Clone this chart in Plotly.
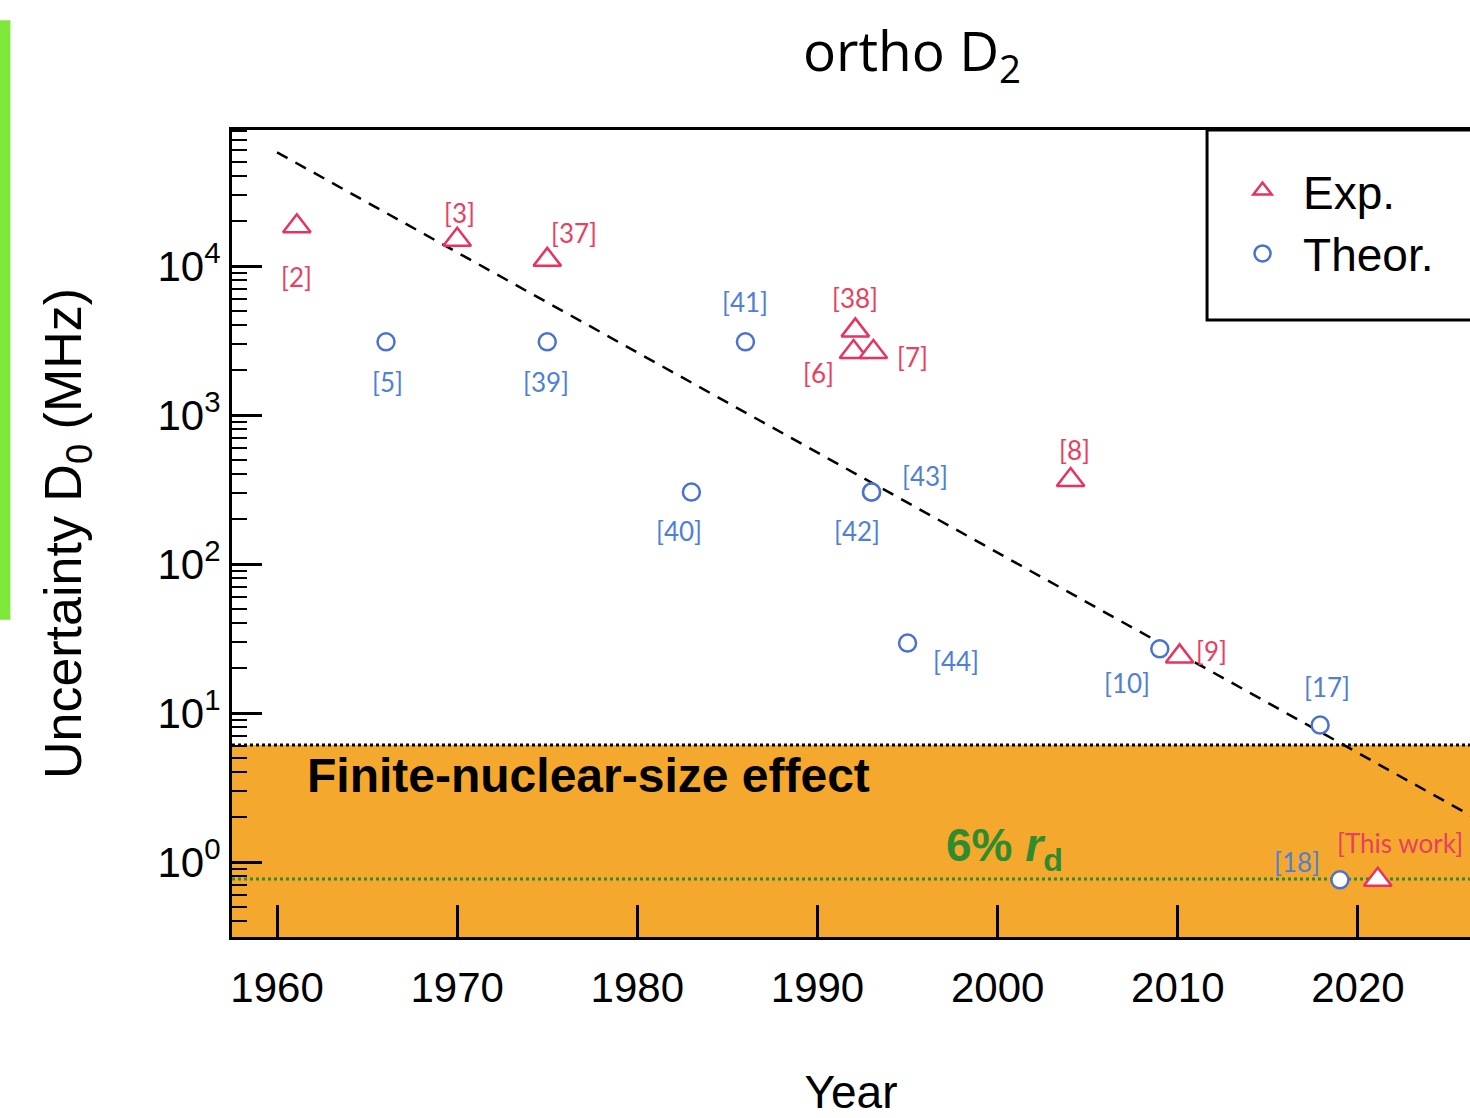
import math
import plotly.graph_objects as go

# ---------------- data ----------------
exp_years = [1961.1, 1970.0, 1975.0, 1992.1, 1992.0, 1993.1, 2004.05, 2010.1, 2021.1]
exp_values = [1.85e4, 1.5e4, 1.1e4, 3.7e3, 2.65e3, 2.65e3, 366, 24, 0.76]
exp_labels = ["[2]", "[3]", "[37]", "[38]", "[6]", "[7]", "[8]", "[9]", "[This work]"]

theo_years = [1966.05, 1975.0, 1986.0, 1983.0, 1993.0, 1993.0, 1995.0, 2009.0, 2017.9, 2019.0]
theo_values = [3.1e3, 3.1e3, 3.1e3, 304, 304, 304, 29.5, 27, 8.3, 0.76]
theo_labels = ["[5]", "[39]", "[41]", "[40]", "[42]", "[43]", "[44]", "[10]", "[17]", "[18]"]

trend_years = [1960, 2030]
trend_values = [5.8e4, 1.15]

fns_limit = 6.1        # finite-nuclear-size effect level (MHz)
rd_level = 0.77        # 6% r_d level (MHz)

year_ticks = [1960, 1970, 1980, 1990, 2000, 2010, 2020]
decade_ticks = [1, 10, 100, 1000, 10000]
decade_text = ["10<sup>0</sup>", "10<sup>1</sup>", "10<sup>2</sup>", "10<sup>3</sup>", "10<sup>4</sup>"]

# ---------------- styles / label placement (pixels) ----------------
RED = "#E8335F"
BLUE = "#4A72D0"
RED_TXT = "#E8405F"
BLUE_TXT = "#4F7FD6"
ORANGE = "#F5A82E"
GREEN = "#2E8B2E"

exp_offsets = [(0, 51), (2, -27), (27, -27), (0, -32), (-35, 21), (39, 5), (4, -30), (32, -5), (22, -37)]
theo_offsets = [(1, 40), (-1, 40), (0, -40), (-12, 39), (-15, 39), (53, -16), (48, 18), (-33, 34), (7, -38), (-43, -18)]

fig = go.Figure()

fig.add_trace(go.Scatter(
    x=trend_years, y=trend_values, mode="lines",
    line=dict(color="black", width=2.5, dash="12px,9px"),
    showlegend=False, hoverinfo="skip"))

fig.add_trace(go.Scatter(
    x=exp_years, y=exp_values, mode="markers", name="Exp.",
    marker=dict(symbol="triangle-up", size=24, color="white",
                line=dict(color=RED, width=2.5))))

fig.add_trace(go.Scatter(
    x=theo_years, y=theo_values, mode="markers", name="Theor.",
    marker=dict(symbol="circle", size=17, color="white",
                line=dict(color=BLUE, width=2.5))))

annotations = []
for xv, yv, lab, (dx, dy) in zip(exp_years, exp_values, exp_labels, exp_offsets):
    annotations.append(dict(x=xv, y=math.log10(yv), xref="x", yref="y", text=lab,
                            showarrow=False, xshift=dx, yshift=-dy,
                            font=dict(family="Lato", size=26, color=RED_TXT)))
for xv, yv, lab, (dx, dy) in zip(theo_years, theo_values, theo_labels, theo_offsets):
    annotations.append(dict(x=xv, y=math.log10(yv), xref="x", yref="y", text=lab,
                            showarrow=False, xshift=dx, yshift=-dy,
                            font=dict(family="Lato", size=26, color=BLUE_TXT)))

annotations.append(dict(x=1961.55, y=0.584, xref="x", yref="y", xanchor="left",
                        text="<b>Finite-nuclear-size effect</b>", showarrow=False,
                        font=dict(family="Liberation Sans", size=48, color="black")))
annotations.append(dict(x=2000.4, y=0.09, xref="x", yref="y",
                        text="<b>6% <i>r</i><sub>d</sub></b>", showarrow=False,
                        font=dict(family="Liberation Sans", size=46, color=GREEN)))

shapes = [
    dict(type="rect", xref="paper", yref="y", x0=0, x1=1, y0=0.1, y1=fns_limit,
         fillcolor=ORANGE, line=dict(width=0), layer="below"),
    dict(type="line", xref="paper", yref="y", x0=0, x1=1, y0=fns_limit, y1=fns_limit,
         line=dict(color="black", width=3, dash="dot"), layer="below"),
    dict(type="line", xref="paper", yref="y", x0=0, x1=1, y0=rd_level, y1=rd_level,
         line=dict(color=GREEN, width=3, dash="dot"), layer="below"),
    # legend frame
    dict(type="rect", xref="paper", yref="paper", x0=0.7876, x1=1.05, y0=0.7646, y1=1.0,
         fillcolor="white", line=dict(color="black", width=3), layer="above"),
    # green bar at the far left of the page
    dict(type="rect", xref="paper", yref="paper", x0=-0.1874, x1=-0.179, y0=0.393, y1=1.136,
         fillcolor="#7DE83A", line=dict(width=0)),
]

minor_vals = [k * 10 ** n for n in range(-1, 5) for k in range(2, 10)]

fig.update_layout(
    width=1470, height=1118,
    margin=dict(l=232, r=0, t=130, b=181),
    paper_bgcolor="white", plot_bgcolor="white",
    title=dict(text="ortho D<sub>2</sub>", x=912 / 1470, xref="container", xanchor="center",
               y=1 - 52 / 1118, yref="container", yanchor="middle",
               font=dict(family="Open Sans", size=55, color="black")),
    font=dict(family="Liberation Sans", color="black"),
    showlegend=True,
    legend=dict(x=0.7997, y=0.97, xanchor="left", yanchor="top",
                bgcolor="rgba(0,0,0,0)", borderwidth=0,
                font=dict(family="Liberation Sans", size=46, color="black"),
                itemsizing="trace", itemwidth=71, tracegroupgap=0),
    annotations=annotations,
    shapes=shapes,
)

fig.update_xaxes(
    range=[1957.5, 2026.22], tickvals=year_ticks,
    ticks="inside", ticklen=32, tickwidth=3, tickcolor="black",
    showline=True, linecolor="black", linewidth=3, mirror=True,
    showgrid=False, zeroline=False, ticklabelstandoff=12,
    tickfont=dict(family="Liberation Sans", size=42, color="black"),
    title=dict(text="Year", standoff=74, font=dict(family="Liberation Sans", size=46, color="black")),
)

fig.update_yaxes(
    type="log", range=[-0.503, 4.913],
    tickvals=decade_ticks, ticktext=decade_text,
    ticks="inside", ticklen=30, tickwidth=2.5, tickcolor="black",
    minor=dict(tickmode="array", tickvals=minor_vals, ticks="inside", ticklen=15,
               tickwidth=2, tickcolor="black", showgrid=False),
    showline=True, linecolor="black", linewidth=3, mirror=False,
    showgrid=False, zeroline=False,
    tickfont=dict(family="Liberation Sans", size=42, color="black"),
    title=dict(text="Uncertainty D<sub>0</sub> (MHz)", standoff=60,
               font=dict(family="Liberation Sans", size=52, color="black")),
)

fig.write_html("out.html")
